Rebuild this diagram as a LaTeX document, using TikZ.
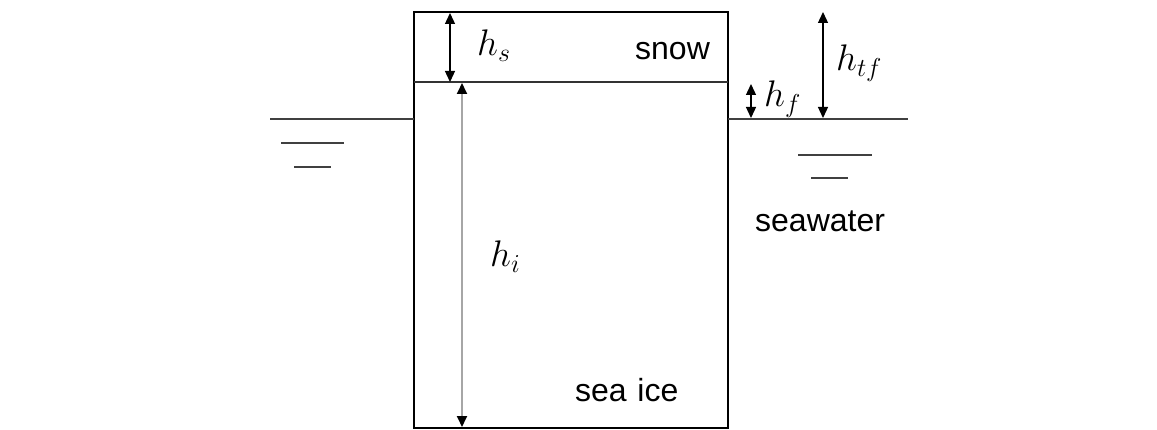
\documentclass[tikz,border=0pt]{standalone}
\usepackage{fix-cm}
\usepackage{fontspec}
\setmainfont{Liberation Sans}
\usetikzlibrary{arrows.meta}

\tikzset{
  dimline/.style={line width=1.3pt,
    {Triangle[width=10pt,length=11pt]}-{Triangle[width=10pt,length=11pt]}},
  level/.style={line width=1.7pt, black!75},
  word/.style={anchor=base west, inner sep=0pt, font=\fontsize{32}{38}\selectfont},
  sym/.style={anchor=base west, inner sep=0pt, font=\fontsize{37}{43}\selectfont},
}

\begin{document}
\begin{tikzpicture}[x=1pt,y=-1pt]

  \useasboundingbox (0,0) rectangle (1157,430);

  % ice floe with snow on top
  \coordinate (top left) at (414,12);
  \coordinate (bottom right) at (728,428);
  \draw[line width=2.8pt] (top left) rectangle (bottom right);
  \coordinate (snow left) at (414,82);
  \coordinate (snow right) at (728,82);
  \draw[line width=1.2pt, black!80] (snow left) -- (snow right);

  % sea level, left side
  \coordinate (wl a) at (270,119);
  \coordinate (wl b) at (414,119);
  \draw[level] (wl a) -- (wl b);
  \coordinate (ls a) at (281,143);
  \coordinate (ls b) at (344,143);
  \coordinate (ls c) at (294,167);
  \coordinate (ls d) at (331,167);
  \draw[level] (ls a) -- (ls b);
  \draw[level] (ls c) -- (ls d);

  % sea level, right side
  \coordinate (wr a) at (728,119);
  \coordinate (wr b) at (908,119);
  \draw[level] (wr a) -- (wr b);
  \coordinate (rs a) at (798,155);
  \coordinate (rs b) at (872,155);
  \coordinate (rs c) at (811,178);
  \coordinate (rs d) at (848,178);
  \draw[level] (rs a) -- (rs b);
  \draw[level] (rs c) -- (rs d);

  % thickness arrows
  \coordinate (hs top) at (450,13);
  \coordinate (hs bot) at (450,82);
  \draw[dimline] (hs top) -- (hs bot);
  \coordinate (hi top) at (462,83);
  \coordinate (hi bot) at (462,427);
  \draw[dimline, gray!70, line width=1.8pt,
    {Triangle[width=10pt,length=11pt,color=black]}-{Triangle[width=10pt,length=11pt,color=black]}]
    (hi top) -- (hi bot);
  \coordinate (hf top) at (751,84);
  \coordinate (hf bot) at (751,118);
  \draw[dimline] (hf top) -- (hf bot);
  \coordinate (htf top) at (823,12);
  \coordinate (htf bot) at (823,118);
  \draw[dimline] (htf top) -- (htf bot);

  % labels
  \node[sym] (hs) at (477,56) {$h_s$};
  \node[sym] (hi) at (490,267) {$h_i$};
  \node[sym] (hf) at (764,107) {$h_f$};
  \node[sym] (htf) at (836,71) {$h_{tf}$};
  \node[word] (snow) at (635,60) {snow};
  \node[word] (ice) at (575,402) {sea\,\,ice};
  \node[word] (water) at (755,232) {seawater};

\end{tikzpicture}
\end{document}
